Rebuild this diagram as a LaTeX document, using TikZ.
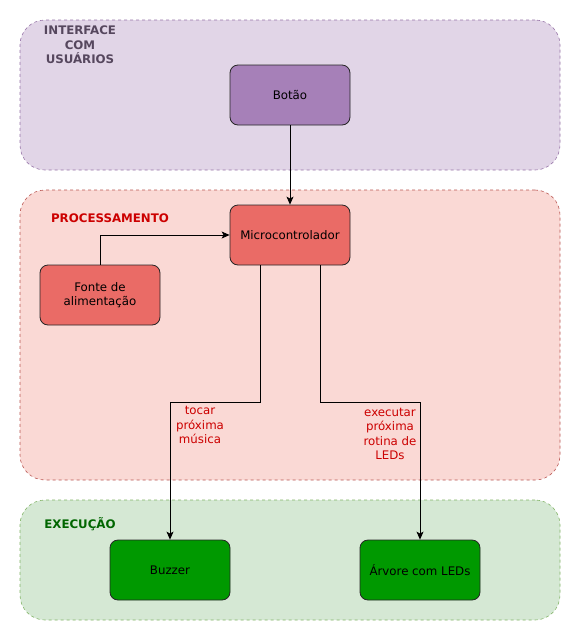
\documentclass[tikz,border=0pt]{standalone}
\usepackage{fontspec}
\setmainfont{DejaVu Sans}
\usetikzlibrary{arrows.meta,positioning}
\definecolor{lilasfundo}{HTML}{E1D5E7}
\definecolor{lilasborda}{HTML}{9673A6}
\definecolor{lilasbloco}{HTML}{A680B8}
\definecolor{lilastexto}{HTML}{56475E}
\definecolor{rosafundo}{HTML}{FAD9D5}
\definecolor{rosaborda}{HTML}{B85450}
\definecolor{vermelhobloco}{HTML}{EA6B66}
\definecolor{vermelhotexto}{HTML}{CC0000}
\definecolor{verdefundo}{HTML}{D5E8D4}
\definecolor{verdeborda}{HTML}{82B366}
\definecolor{verdebloco}{HTML}{009900}
\definecolor{verdetexto}{HTML}{006600}

\begin{document}
\begin{tikzpicture}[x=1pt,y=-1pt,font=\fontsize{11.8}{14}\selectfont,
    grupo/.style={dashed,line width=0.6pt,rounded corners=25pt,minimum width=540pt,inner sep=0pt},
    bloco/.style={draw=black!85,line width=0.8pt,rounded corners=8pt,minimum width=120pt,minimum height=60pt,inner sep=0pt,align=center},
    titulo/.style={font=\fontsize{11.8}{14.5}\selectfont\bfseries,align=center},
    rotulo/.style={text=vermelhotexto,align=center,font=\fontsize{11.8}{14.3}\selectfont},
    seta/.style={-{Stealth[length=8pt,width=7pt,inset=2pt]},line width=0.8pt}]
\useasboundingbox (0,0) rectangle (581,641);
\node[grupo,draw=lilasborda,fill=lilasfundo,minimum height=150pt] (interface) at (290,95) {};
\node[grupo,draw=rosaborda,fill=rosafundo,minimum height=290pt] (processamento) at (290,335) {};
\node[grupo,draw=verdeborda,fill=verdefundo,minimum height=120pt] (execucao) at (290,560) {};
\node[titulo,text=lilastexto] (titinterface) at (80,45) {INTERFACE\\COM\\USUÁRIOS};
\node[titulo,text=vermelhotexto] (titprocessamento) at (110,218) {PROCESSAMENTO};
\node[titulo,text=verdetexto] (titexecucao) at (80,524) {EXECUÇÃO};
\node[bloco,fill=lilasbloco] (botao) at (290,95) {Botão};
\node[bloco,fill=vermelhobloco] (micro) at (290,235) {Microcontrolador};
\node[bloco,fill=vermelhobloco] (fonte) at (100,295) {Fonte de\\alimentação};
\node[bloco,fill=verdebloco] (buzzer) at (170,570) {Buzzer};
\node[bloco,fill=verdebloco] (arvore) at (420,570) {Árvore com LEDs};
\coordinate (dobra1) at (260,402);
\coordinate (dobra2) at (320,402);
\draw[seta] (botao) -- (micro);
\draw[seta] (fonte.north) |- (micro.west);
\draw[seta] (micro.south -| dobra1) -- (dobra1) -| (buzzer.north);
\draw[seta] (micro.south -| dobra2) -- (dobra2) -| (arvore.north);
\node[rotulo] (lbltocar) at (200,425) {tocar\\próxima\\música};
\node[rotulo] (lblexecutar) at (390,434) {executar\\próxima\\rotina de\\LEDs};
\end{tikzpicture}
\end{document}
